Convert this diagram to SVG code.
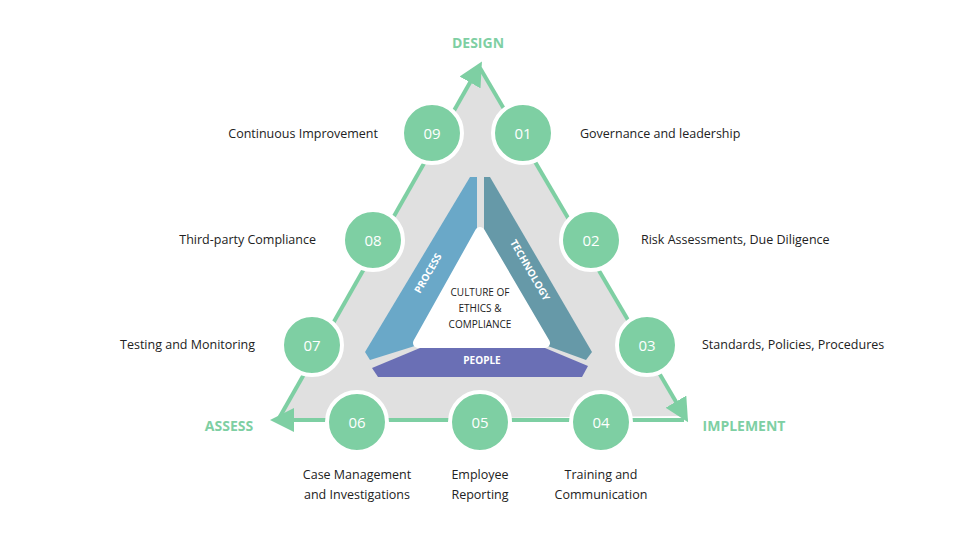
<svg xmlns="http://www.w3.org/2000/svg" width="960" height="540" viewBox="0 0 960 540">
<style>
.n circle{fill:#7ecfa3;stroke:#fff;stroke-width:4}
.n text{fill:#fff;font:15px "Open Sans",sans-serif;text-anchor:middle}
.l{fill:#222;font:12.5px "Open Sans",sans-serif}
.c{fill:#7ecfa3;font:bold 14px "Open Sans",sans-serif}
.e{stroke:#7ecfa3;stroke-width:4;fill:none}
</style>
<defs><marker id="a" markerWidth="6" markerHeight="6" refX="3" refY="3" orient="auto" markerUnits="strokeWidth"><path d="M0,0L6,3L0,6z" fill="#7ecfa3"/></marker></defs>
<rect width="960" height="540" fill="#fff"/>
<polygon points="480,68 684,416 278,420" fill="#e0e0e0"/>
<g id="connectors">
<path class="e" d="M278,420 L476,72" marker-end="url(#a)"/>
<path class="e" d="M480,68 L682,412" marker-end="url(#a)"/>
<path class="e" d="M684,420 L282,420" marker-end="url(#a)"/>
</g>
<g id="core">
<polygon points="470,177 477,177 477,232 418,345 370,360 365,352" fill="#6aa8c8"/>
<polygon points="484,177 490,177 592,352 586,360 545,345 484,232" fill="#6699a8"/>
<polygon points="420,348 545,348 588,366 582,377 378,377 372,368" fill="#6a6fb5"/>
<polygon points="480,232 545,343 418,343" fill="#fff" stroke="#fff" stroke-width="10" stroke-linejoin="round"/>
<text x="480" y="296" text-anchor="middle" font-family="Open Sans,sans-serif" font-size="10" fill="#222">CULTURE OF</text>
<text x="480" y="312" text-anchor="middle" font-family="Open Sans,sans-serif" font-size="10" fill="#222">ETHICS &amp;</text>
<text x="480" y="328" text-anchor="middle" font-family="Open Sans,sans-serif" font-size="10" fill="#222">COMPLIANCE</text>
<text x="482" y="364" text-anchor="middle" font-family="Open Sans,sans-serif" font-size="10" font-weight="bold" fill="#fff">PEOPLE</text>
<text transform="translate(431,275) rotate(-60)" text-anchor="middle" font-family="Open Sans,sans-serif" font-size="10" font-weight="bold" fill="#fff">PROCESS</text>
<text transform="translate(527,272) rotate(60)" text-anchor="middle" font-family="Open Sans,sans-serif" font-size="10" font-weight="bold" fill="#fff">TECHNOLOGY</text>
</g>
<g id="n09" class="n"><circle cx="432" cy="133" r="30"/><text x="432" y="139">09</text></g>
<g id="n01" class="n"><circle cx="523" cy="133" r="30"/><text x="523" y="139">01</text></g>
<g id="n08" class="n"><circle cx="373" cy="240" r="30"/><text x="373" y="246">08</text></g>
<g id="n02" class="n"><circle cx="591" cy="240" r="30"/><text x="591" y="246">02</text></g>
<g id="n07" class="n"><circle cx="312" cy="345" r="30"/><text x="312" y="351">07</text></g>
<g id="n03" class="n"><circle cx="647" cy="345" r="30"/><text x="647" y="351">03</text></g>
<g id="n06" class="n"><circle cx="357" cy="422" r="30"/><text x="357" y="428">06</text></g>
<g id="n05" class="n"><circle cx="480" cy="422" r="30"/><text x="480" y="428">05</text></g>
<g id="n04" class="n"><circle cx="601" cy="422" r="30"/><text x="601" y="428">04</text></g>
<g id="labels">
<text class="c" x="478" y="48" text-anchor="middle">DESIGN</text>
<text class="c" x="229" y="431" text-anchor="middle">ASSESS</text>
<text class="c" x="744" y="431" text-anchor="middle">IMPLEMENT</text>
<text class="l" x="378" y="138" text-anchor="end">Continuous Improvement</text>
<text class="l" x="580" y="138">Governance and leadership</text>
<text class="l" x="316" y="244" text-anchor="end">Third-party Compliance</text>
<text class="l" x="641" y="244">Risk Assessments, Due Diligence</text>
<text class="l" x="255" y="349" text-anchor="end">Testing and Monitoring</text>
<text class="l" x="702" y="349">Standards, Policies, Procedures</text>
<text class="l" x="357" y="479" text-anchor="middle">Case Management</text>
<text class="l" x="357" y="499" text-anchor="middle">and Investigations</text>
<text class="l" x="480" y="479" text-anchor="middle">Employee</text>
<text class="l" x="480" y="499" text-anchor="middle">Reporting</text>
<text class="l" x="601" y="479" text-anchor="middle">Training and</text>
<text class="l" x="601" y="499" text-anchor="middle">Communication</text>
</g>
</svg>
